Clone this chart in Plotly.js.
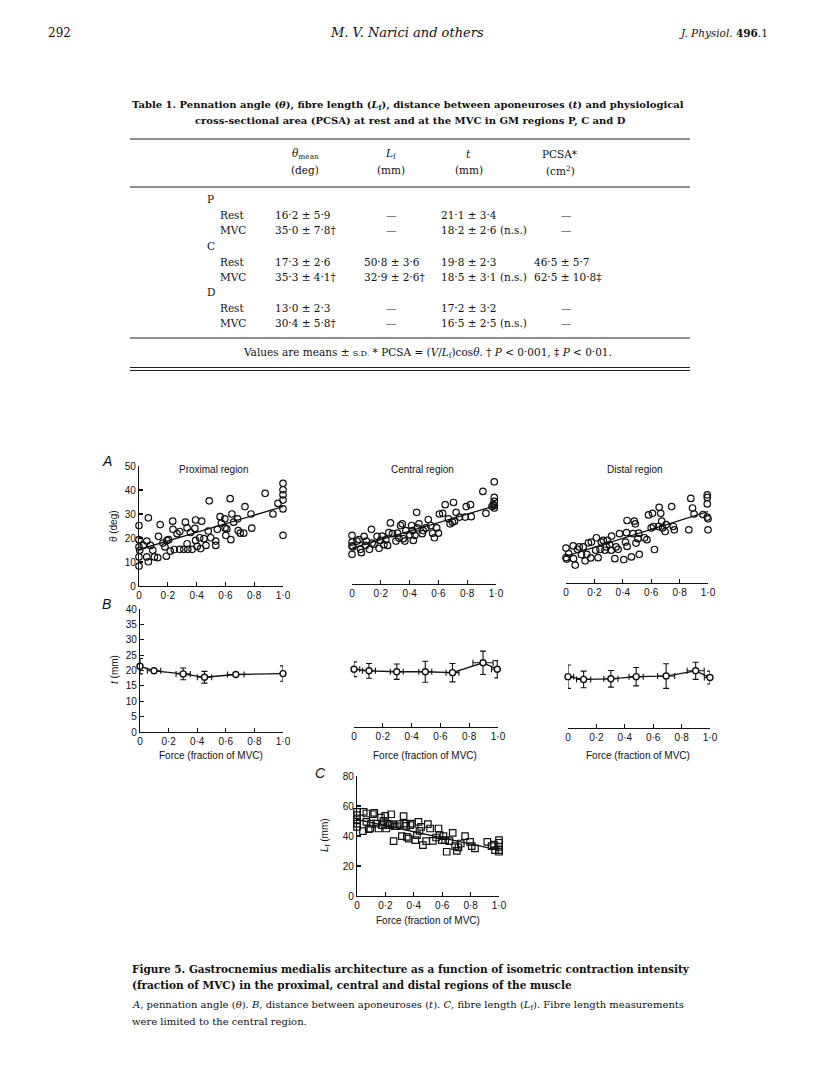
<!DOCTYPE html>
<html><head><meta charset="utf-8">
<script src="https://cdn.plot.ly/plotly-3.0.1.min.js"></script>
<style>html,body{margin:0;padding:0;background:#fff}</style>
</head><body><div id="page" style="width:816px;height:1088px"></div>
<script>
// ---------------- DATA ----------------
// Panel A: pennation angle (deg) vs force (fraction of MVC)
const proxX = [0,0,0,0,0,0.005,0.065,0.03,0.054,0.054,0.065,0.08,0.096,0.107,0.135,0.147,0.13,0.166,0.18,0.194,0.19,0.206,0.217,0.234,0.236,0.245,0.264,0.283,0.283,0.311,0.322,0.334,0.334,0.339,0.357,0.369,0.388,0.393,0.393,0.404,0.421,0.428,0.435,0.451,0.465,0.481,0.488,0.498,0.533,0.533,0.544,0.563,0.572,0.596,0.598,0.603,0.61,0.633,0.638,0.645,0.657,0.685,0.689,0.703,0.727,0.736,0.778,0.783,0.876,0.93,0.965,1,1,1,1,1,1];
const proxY = [25.2,19.3,16.3,12.1,8.3,14.9,28.4,16.9,18.7,12.1,10.1,16.9,14.9,12.1,20.7,25.6,11.8,17.9,16.3,19.0,12.4,19.3,14.5,27.0,23.6,15.2,21.8,22.7,15.3,15.3,26.6,24.2,17.6,15.3,22.3,15.3,24.0,27.5,19.0,16.5,20.1,15.6,27.0,19.7,16.9,22.9,35.5,20.1,18.7,16.9,23.6,28.9,26.2,28.0,24.2,21.1,23.8,36.4,19.3,30.0,26.6,28.0,23.1,22.0,22.0,33.1,30.0,24.1,38.6,30.0,34.4,42.8,40.1,38.0,35.8,32.1,21.1];
const proxFitX = [0, 1];
const proxFitY = [15.2, 33.1];

const centX = [0,0,0,0,0.007,0.035,0.049,0.06,0.065,0.084,0.093,0.1,0.121,0.135,0.14,0.153,0.174,0.188,0.198,0.209,0.221,0.235,0.247,0.256,0.267,0.281,0.305,0.316,0.326,0.337,0.349,0.356,0.367,0.374,0.402,0.414,0.421,0.426,0.437,0.449,0.453,0.465,0.488,0.495,0.514,0.53,0.547,0.56,0.572,0.588,0.6,0.607,0.63,0.647,0.67,0.681,0.698,0.705,0.712,0.723,0.747,0.786,0.793,0.823,0.828,0.909,0.93,0.972,0.988,0.988,0.988,0.988,0.988,0.98];
const centY = [21.1,18.3,16.7,13.2,16.3,18.7,19.3,15.3,13.9,20.7,16.9,18.7,15.3,23.6,17.9,17.4,20.7,15.7,19.0,20.8,17.2,19.3,16.9,22.2,26.3,21.8,18.7,22.0,20.0,25.2,25.9,19.7,18.7,23.1,21.3,25.2,23.1,19.0,21.1,30.7,24.2,25.9,21.8,23.1,24.2,27.7,25.2,22.0,20.1,24.2,22.0,30.0,30.3,33.9,28.0,25.9,26.6,34.8,27.0,30.7,28.7,28.7,33.1,33.9,28.9,39.4,30.3,33.1,43.4,36.9,35.3,33.5,32.5,33.9];
const centFitX = [0, 1];
const centFitY = [15.8, 33.5];

const distX = [0,0,0.005,0.019,0.051,0.053,0.065,0.081,0.093,0.109,0.121,0.135,0.147,0.158,0.174,0.179,0.209,0.214,0.226,0.24,0.249,0.263,0.274,0.284,0.291,0.307,0.319,0.321,0.344,0.353,0.367,0.377,0.407,0.419,0.426,0.43,0.43,0.461,0.472,0.481,0.488,0.493,0.507,0.512,0.516,0.553,0.57,0.581,0.6,0.609,0.616,0.623,0.651,0.656,0.667,0.674,0.679,0.698,0.705,0.744,0.756,0.763,0.865,0.879,0.891,0.902,0.965,0.995,0.995,0.995,0.995,1,1];
const distY = [15.8,11.8,11.2,13.5,16.7,11.4,8.7,15.3,16.3,13.1,16.3,10.5,13.2,18.0,11.7,18.3,14.9,20.1,11.8,15.3,18.3,19.0,14.9,16.3,19.0,17.2,14.9,20.8,11.4,16.3,15.3,21.8,11.0,18.3,22.2,16.5,27.3,12.1,21.8,27.0,25.9,17.9,19.7,22.0,13.2,20.1,19.3,29.6,24.2,30.3,24.8,15.2,24.8,32.8,30.3,27.0,24.2,22.7,25.6,33.1,24.8,23.4,23.4,36.5,32.5,30.0,29.8,38.0,36.9,34.2,28.7,28.0,23.4];
const distFitX = [0, 1];
const distFitY = [12.4, 31.0];

// Panel B: distance between aponeuroses t (mm), mean ± s.d.
const bProxX = [0, 0.098, 0.302, 0.451, 0.67, 1.0];
const bProxY = [21.4, 19.9, 18.9, 17.8, 18.7, 19.0];
const bProxSdY = [2.5, 0, 1.9, 1.9, 0, 2.5];
const bProxSdX = [0, 0.047, 0.05, 0.05, 0.058, 0];

const bCentX = [0, 0.104, 0.297, 0.495, 0.684, 0.896, 0.995];
const bCentY = [20.4, 19.9, 19.6, 19.6, 19.3, 22.5, 20.4];
const bCentSdY = [2.4, 2.4, 2.5, 3.4, 3.0, 3.8, 2.8];
const bCentSdX = [0.04, 0.045, 0.045, 0.045, 0.045, 0.07, 0.04];

const bDistX = [0, 0.11, 0.302, 0.48, 0.691, 0.899, 1.0];
const bDistY = [18.0, 17.1, 17.3, 18.0, 18.2, 19.9, 17.7];
const bDistSdY = [3.8, 2.7, 2.7, 3.0, 4.0, 2.8, 2.1];
const bDistSdX = [0.04, 0.05, 0.05, 0.05, 0.06, 0.06, 0.04];

// Panel C: fibre length Lf (mm), central region
const cX = [0,0,0,0,0,0.047,0.042,0.066,0.066,0.082,0.094,0.098,0.112,0.122,0.136,0.152,0.169,0.176,0.187,0.199,0.206,0.215,0.23,0.241,0.246,0.258,0.265,0.281,0.3,0.316,0.328,0.333,0.347,0.351,0.363,0.375,0.387,0.41,0.422,0.433,0.44,0.452,0.464,0.487,0.499,0.515,0.534,0.557,0.574,0.581,0.597,0.609,0.621,0.632,0.651,0.674,0.691,0.703,0.714,0.731,0.761,0.796,0.808,0.831,0.918,0.948,0.972,1,1,1,1,1,0.965];
const cY = [56.1,53.9,51.0,48.3,46.1,56.1,43.2,55.0,49.4,44.5,45.0,48.3,54.5,55.4,48.3,45.0,52.3,47.2,50.1,53.4,45.0,48.3,47.2,54.5,47.9,36.6,46.5,46.5,47.9,39.9,53.2,48.3,46.8,39.4,38.3,47.2,48.3,37.2,40.6,49.4,43.4,46.1,33.9,36.6,47.9,45.0,36.8,39.0,45.0,40.6,37.2,39.9,37.2,29.5,36.6,42.1,33.2,30.1,32.4,35.0,39.9,36.1,33.2,31.7,36.1,33.2,30.6,37.2,35.5,32.8,30.6,29.5,34.3];
const cFitX = [0, 1];
const cFitY = [51.0, 30.6];

// Tick labels
const forceTicks = [0, 0.2, 0.4, 0.6, 0.8, 1.0];
const forceTickText = ['0', '0·2', '0·4', '0·6', '0·8', '1·0'];
const thetaTicks = [0, 10, 20, 30, 40, 50];
const tTicks = [0, 5, 10, 15, 20, 25, 30, 35, 40];
const lfTicks = [0, 20, 40, 60, 80];

// Table 1
const tableRegions = ['P', 'C', 'D'];
const tableConditions = ['Rest', 'MVC'];
const colTheta = ['16·2 ± 5·9', '35·0 ± 7·8†', '17·3 ± 2·6', '35·3 ± 4·1†', '13·0 ± 2·3', '30·4 ± 5·8†'];
const colLf = ['—', '—', '50·8 ± 3·6', '32·9 ± 2·6†', '—', '—'];
const colT = ['21·1 ± 3·4', '18·2 ± 2·6 (n.s.)', '19·8 ± 2·3', '18·5 ± 3·1 (n.s.)', '17·2 ± 3·2', '16·5 ± 2·5 (n.s.)'];
const colPcsa = ['—', '—', '46·5 ± 5·7', '62·5 ± 10·8‡', '—', '—'];

// ---------------- LAYOUT HELPERS ----------------
const W = 816, H = 1088;
const px = x => x / W;
const py = y => 1 - y / H;
const SANS = 'Liberation Sans, Arial, sans-serif';
const SERIF = 'DejaVu Serif, serif';
const BLACK = '#111';

function xax(d0, d1, extra) {
  return Object.assign({
    domain: [px(d0), px(d1)], range: [0, 1], showgrid: false, zeroline: false,
    showline: true, linecolor: BLACK, linewidth: 1.2, ticks: 'inside', ticklen: 4,
    tickwidth: 1.2, tickcolor: BLACK, tickvals: forceTicks, ticktext: forceTickText,
    tickfont: {family: SANS, size: 10, color: BLACK}, fixedrange: true
  }, extra);
}
function yax(top, bot, range, tv, extra) {
  return Object.assign({
    domain: [py(bot), py(top)], range: range, showgrid: false, zeroline: false,
    showline: true, linecolor: BLACK, linewidth: 1.2, ticks: 'inside', ticklen: 4,
    tickwidth: 1.2, tickcolor: BLACK, tickvals: tv,
    tickfont: {family: SANS, size: 10, color: BLACK}, fixedrange: true
  }, extra);
}
const hid = {visible: false};

const circ = {symbol: 'circle-open', size: 6.5, color: BLACK, line: {width: 1.2, color: BLACK}};
function pts(x, y, xa, ya, marker) {
  return {type: 'scatter', mode: 'markers', x: x, y: y, xaxis: xa, yaxis: ya,
          marker: marker || circ, cliponaxis: false, hoverinfo: 'skip', showlegend: false};
}
function fit(x, y, xa, ya) {
  return {type: 'scatter', mode: 'lines', x: x, y: y, xaxis: xa, yaxis: ya,
          line: {color: BLACK, width: 1.3}, cliponaxis: false, hoverinfo: 'skip', showlegend: false};
}
function errTrace(x, y, sx, sy, xa, ya) {
  return {type: 'scatter', mode: 'lines+markers', x: x, y: y, xaxis: xa, yaxis: ya,
          line: {color: BLACK, width: 1.3},
          marker: {symbol: 'circle', size: 6, color: '#fff', line: {width: 1.4, color: BLACK}},
          error_y: {type: 'data', array: sy, visible: true, color: BLACK, thickness: 1.1, width: 3},
          error_x: {type: 'data', array: sx, visible: true, color: BLACK, thickness: 1.1, width: 3},
          cliponaxis: false, hoverinfo: 'skip', showlegend: false};
}

const data = [
  pts(proxX, proxY, 'x', 'y'), fit(proxFitX, proxFitY, 'x', 'y'),
  pts(centX, centY, 'x2', 'y2'), fit(centFitX, centFitY, 'x2', 'y2'),
  pts(distX, distY, 'x3', 'y3'), fit(distFitX, distFitY, 'x3', 'y3'),
  errTrace(bProxX, bProxY, bProxSdX, bProxSdY, 'x4', 'y4'),
  errTrace(bCentX, bCentY, bCentSdX, bCentSdY, 'x5', 'y5'),
  errTrace(bDistX, bDistY, bDistSdX, bDistSdY, 'x6', 'y6'),
  pts(cX, cY, 'x7', 'y7', {symbol: 'square-open', size: 6.5, color: BLACK, line: {width: 1.2, color: BLACK}}),
  fit(cFitX, cFitY, 'x7', 'y7')
];

// ---------------- ANNOTATIONS ----------------
const ann = [];
function txt(x, y, text, o) {
  ann.push(Object.assign({xref: 'paper', yref: 'paper', x: px(x), y: py(y), text: text,
    showarrow: false, xanchor: 'left', yanchor: 'middle',
    font: {family: SERIF, size: 10.5, color: BLACK}}, o || {}));
}
// Running head
txt(46, 33, '292', {font: {family: SERIF, size: 12, color: BLACK}});
txt(407, 33, '<i>M. V. Narici and others</i>', {xanchor: 'center', font: {family: SERIF, size: 13, color: BLACK}});
txt(770, 33, '<i>J. Physiol.</i> <b>496</b>.1', {xanchor: 'right', font: {family: SERIF, size: 10.5, color: BLACK}});

// Table title
txt(130, 105, '<b>Table 1. Pennation angle (<i>θ</i>), fibre length (<i>L</i><sub>f</sub>), distance between aponeuroses (<i>t</i>) and physiological</b>', {font: {family: SERIF, size: 10, color: BLACK}});
txt(410, 121, '<b>cross-sectional area (PCSA) at rest and at the MVC in GM regions P, C and D</b>', {xanchor: 'center', font: {family: SERIF, size: 10, color: BLACK}});
// Column headers
txt(305, 154, '<i>θ</i><sub>mean</sub>', {xanchor: 'center'});
txt(305, 170, '(deg)', {xanchor: 'center'});
txt(391, 154, '<i>L</i><sub>f</sub>', {xanchor: 'center'});
txt(391, 170, '(mm)', {xanchor: 'center'});
txt(469, 154, '<i>t</i>', {xanchor: 'center'});
txt(469, 170, '(mm)', {xanchor: 'center'});
txt(560, 154, 'PCSA*', {xanchor: 'center'});
txt(560, 170, '(cm<sup>2</sup>)', {xanchor: 'center'});
// Body rows
const regionY = [199, 246, 292];
tableRegions.forEach((r, i) => {
  const y0 = regionY[i];
  txt(205, y0, r);
  tableConditions.forEach((c, j) => {
    const y = y0 + 16 * (j + 1) - j;
    const k = i * 2 + j;
    txt(218, y, c);
    txt(273, y, colTheta[k]);
    if (colLf[k] === '—') txt(391, y, '—', {xanchor: 'center'}); else txt(362, y, colLf[k]);
    txt(439, y, colT[k]);
    if (colPcsa[k] === '—') txt(566, y, '—', {xanchor: 'center'}); else txt(532, y, colPcsa[k]);
  });
});
txt(427, 353, 'Values are means ± <span style="font-size:8px">S.D.</span> * PCSA = (<i>V</i>/<i>L</i><sub>f</sub>)cos<i>θ</i>. † <i>P</i> < 0·001, ‡ <i>P</i> < 0·01.', {xanchor: 'center'});

// Figure labels
const lab = (x, y, t, o) => txt(x, y, t, Object.assign({font: {family: SANS, size: 10, color: BLACK}}, o || {}));
lab(100, 461, '<i>A</i>', {font: {family: SANS, size: 14, color: BLACK}});
lab(100, 604, '<i>B</i>', {font: {family: SANS, size: 14, color: BLACK}});
lab(313, 773, '<i>C</i>', {font: {family: SANS, size: 14, color: BLACK}});
lab(213, 469, 'Proximal region', {xanchor: 'center'});
lab(422, 469, 'Central region', {xanchor: 'center'});
lab(635, 469, 'Distal region', {xanchor: 'center'});
lab(113, 526, '<i>θ</i> (deg)', {xanchor: 'center', textangle: -90});
lab(114, 670, '<i>t</i> (mm)', {xanchor: 'center', textangle: -90});
lab(325, 835, '<i>L</i><sub>f</sub> (mm)', {xanchor: 'center', textangle: -90});
lab(211, 755, 'Force (fraction of MVC)', {xanchor: 'center'});
lab(425, 755, 'Force (fraction of MVC)', {xanchor: 'center'});
lab(638, 755, 'Force (fraction of MVC)', {xanchor: 'center'});
lab(428, 920, 'Force (fraction of MVC)', {xanchor: 'center'});

// Caption
txt(130, 969, '<b>Figure 5. Gastrocnemius medialis architecture as a function of isometric contraction intensity</b>', {font: {family: SERIF, size: 10.5, color: BLACK}});
txt(130, 985, '<b>(fraction of MVC) in the proximal, central and distal regions of the muscle</b>', {font: {family: SERIF, size: 10.5, color: BLACK}});
txt(130, 1005, '<i>A</i>, pennation angle (<i>θ</i>). <i>B</i>, distance between aponeuroses (<i>t</i>). <i>C</i>, fibre length (<i>L</i><sub>f</sub>). Fibre length measurements', {font: {family: SERIF, size: 10, color: BLACK}});
txt(130, 1021, 'were limited to the central region.', {font: {family: SERIF, size: 10, color: BLACK}});

// Table rules
const rule = (y, w) => ({type: 'line', xref: 'paper', yref: 'paper', x0: px(130), x1: px(690), y0: py(y), y1: py(y), line: {color: '#222', width: w || 1.2}});
const shapes = [rule(139), rule(187), rule(338), rule(367.5), rule(370.5)];

const layout = {
  width: W, height: H, margin: {l: 0, r: 0, t: 0, b: 0},
  paper_bgcolor: '#fff', plot_bgcolor: 'rgba(0,0,0,0)', showlegend: false,
  xaxis: xax(139, 283, {anchor: 'y'}),
  yaxis: yax(466, 586, [0, 50], thetaTicks, {anchor: 'x'}),
  xaxis2: xax(352, 496, {anchor: 'free', position: py(584)}),
  yaxis2: Object.assign({domain: [py(586), py(466)], range: [0, 50], anchor: 'x2'}, hid),
  xaxis3: xax(566, 708, {anchor: 'free', position: py(583)}),
  yaxis3: Object.assign({domain: [py(586), py(466)], range: [0, 50], anchor: 'x3'}, hid),
  xaxis4: xax(140, 283, {anchor: 'y4'}),
  yaxis4: yax(609, 732, [0, 40], tTicks, {anchor: 'x4'}),
  xaxis5: xax(354, 498, {anchor: 'free', position: py(727)}),
  yaxis5: Object.assign({domain: [py(732), py(609)], range: [0, 40], anchor: 'x5'}, hid),
  xaxis6: xax(568, 710, {anchor: 'free', position: py(728)}),
  yaxis6: Object.assign({domain: [py(732), py(609)], range: [0, 40], anchor: 'x6'}, hid),
  xaxis7: xax(357, 499, {anchor: 'y7'}),
  yaxis7: yax(776, 896, [0, 80], lfTicks, {anchor: 'x7'}),
  annotations: ann, shapes: shapes
};

Plotly.newPlot('page', data, layout, {displayModeBar: false, staticPlot: true});
</script></body></html>
